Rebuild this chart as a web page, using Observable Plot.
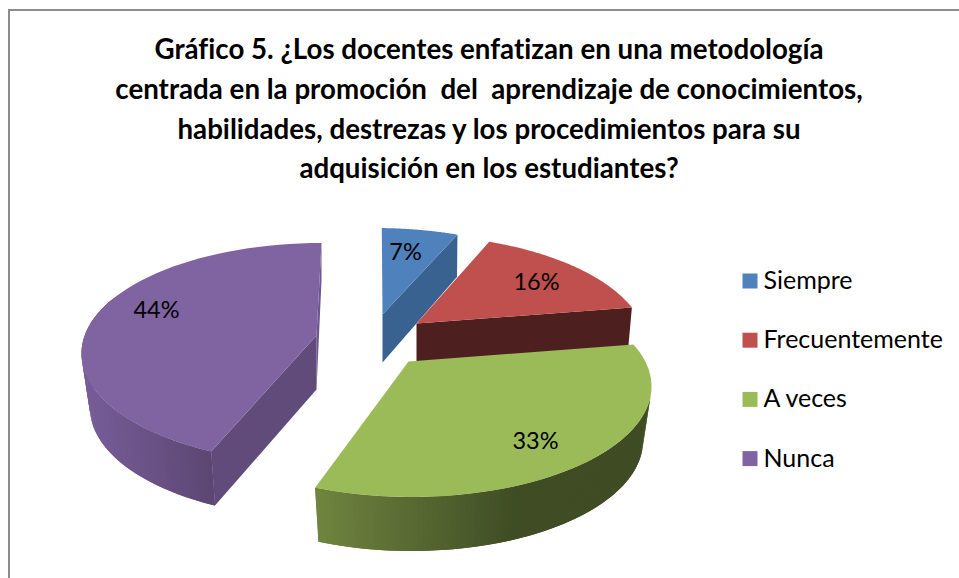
<!DOCTYPE html>
<html><head><meta charset="utf-8">
<script src="https://cdn.jsdelivr.net/npm/d3@7"></script>
<script src="https://cdn.jsdelivr.net/npm/@observablehq/plot@0.6"></script>
<style>html,body{margin:0;background:#fff}svg{display:block}</style>
</head><body><div id="chart"></div>
<script>
const titleLines = [
  "Gráfico 5. ¿Los docentes enfatizan en una metodología",
  "centrada en la promoción  del  aprendizaje de conocimientos,",
  "habilidades, destrezas y los procedimientos para su",
  "adquisición en los estudiantes?"
];
const categories = ["Siempre", "Frecuentemente", "A veces", "Nunca"];
const values = [7, 16, 33, 44];
const topColors = ["#4f81bd", "#c0504d", "#9bbb59", "#8064a2"];

// Exploded 3D pie view: ellipse centre and apex of each slice, in view units
const rx = 240, ry = 110.5;
const ellipseX = [375, 406, 411, 321];
const ellipseY = [338, 345, 386, 353];
const apexX = [382, 416, 408, 316];
const apexY = [314, 323, 361, 335];
const depth = [48, 50, 54, 54];
const trimStart = [0.5, -0.5, -3.3, 0];
const trimEnd = [-0.7, -1, -3.7, -1];
const labelX = [405, 536, 535, 156];
const labelY = [252, 282, 441, 310];

// Perspective foreshortening of the pie angle
const rad = Math.PI / 180;
const warp = t => t + 1 - 13 * Math.sin(t * rad);
let acc = 0;
const slices = categories.map((name, i) => {
  const t0 = acc * 3.6; acc += values[i];
  return {name, i, t0: warp(t0) + trimStart[i], t1: warp(acc * 3.6) + trimEnd[i], color: topColors[i]};
});
const rim = (s, t, dz = 0, shrink = 1) => [
  ellipseX[s.i] + rx * shrink * Math.sin(t * rad),
  ellipseY[s.i] + dz - ry * Math.cos(t * rad)
];
const rows = [];
let pid = 0;
const poly = (pts, color) => { const id = pid++; pts.forEach(([x, y]) => rows.push({x, y, id, color})); };
const arc = (s, a, b, dz, shrink) => d3.range(0, 61).map(k => rim(s, a + (b - a) * k / 60, dz, shrink));
// Rim wall painted in overlapping strips, shaded along the horizontal
const sideShade = (s, t0, t1, xA, colorA, xB, colorB) => {
  const mix = d3.interpolateRgb(colorA, colorB);
  const n = Math.ceil(Math.abs(t1 - t0) / 1.2);
  for (let k = 0; k < n; k++) {
    const a = t0 + (t1 - t0) * k / n, b = t0 + (t1 - t0) * Math.min(n, k + 2) / n;
    const f = Math.max(0, Math.min(1, (rim(s, a)[0] - xA) / (xB - xA)));
    poly([rim(s, a), rim(s, b), rim(s, b, depth[s.i], 0.965), rim(s, a, depth[s.i], 0.965)], d3.rgb(mix(f)).formatHex());
  }
};
const apex = s => [apexX[s.i], apexY[s.i]];
const apexLow = s => [apexX[s.i], apexY[s.i] + depth[s.i]];

// Purple, back to front
{
  const s = slices[3];
  poly([rim(s, s.t1), rim(s, s.t1, depth[3] * 0.7, 0.99), apexLow(s), apex(s)], "#6e5690");
  sideShade(s, 300, s.t0, 85, "#775c98", 215, "#5a4670");
  poly([apex(s), rim(s, s.t0), rim(s, s.t0, depth[3], 0.965), apexLow(s)], "#614b7a");
  poly([apex(s), ...arc(s, s.t0, s.t1)], s.color);
}
// Blue
{
  const s = slices[0];
  poly([apex(s), rim(s, s.t1), rim(s, s.t1, depth[0] - 6, 0.995), apexLow(s)], "#3a6291");
  poly([apex(s), ...arc(s, s.t0, s.t1)], s.color);
}
// Red
{
  const s = slices[1];
  poly([apex(s), rim(s, s.t1), rim(s, s.t1, depth[1], 0.98), apexLow(s)], "#4d201f");
  poly([apex(s), ...arc(s, s.t0, s.t1)], s.color);
}
// Green
{
  const s = slices[2];
  sideShade(s, 95, s.t1, 520, "#3f4c24", 316, "#70853f");
  poly([apex(s), ...arc(s, s.t0, s.t1)], s.color);
}

const W = 959, H = 578;
const table = categories.map((name, i) => ({name, i, value: values[i], color: topColors[i]}));
const legendY = i => 280.5 + i * 59.2;
const fontFam = "Lato, Carlito, Calibri, sans-serif";

const chart = Plot.plot({
  width: W, height: H, margin: 0,
  style: {fontVariantLigatures: "none"},
  x: {domain: [0, W], range: [0, W], axis: null},
  y: {domain: [0, H], range: [0, H], axis: null},
  color: {type: "identity"},
  marks: [
    Plot.rect([0], {x1: () => 9, x2: () => 1200, y1: () => 10, y2: () => 1200, stroke: "#8c8c8c", strokeWidth: 2, fill: "white", clip: true}),
    Plot.line(rows, {x: "x", y: "y", z: "id", fill: "color", stroke: "none", curve: "linear"}),
    Plot.text(titleLines, {x: () => 488.5, y: (d, i) => 50 + i * 39.7, text: d => d, fontFamily: fontFam, fontWeight: 700, fontSize: 27.7, fill: "black"}),
    Plot.text(table, {x: d => labelX[d.i], y: d => labelY[d.i], text: d => d.value + "%", fontFamily: fontFam, fontSize: 23.5, fill: "black"}),
    Plot.dot(table, {x: () => 749.5, y: d => legendY(d.i), r: 8.46, symbol: "square", fill: "color", stroke: "none"}),
    Plot.text(table, {x: () => 763, y: d => legendY(d.i), text: "name", textAnchor: "start", fontFamily: fontFam, fontSize: 25, fill: "black"})
  ]
});
document.getElementById("chart").append(chart);
</script></body></html>
